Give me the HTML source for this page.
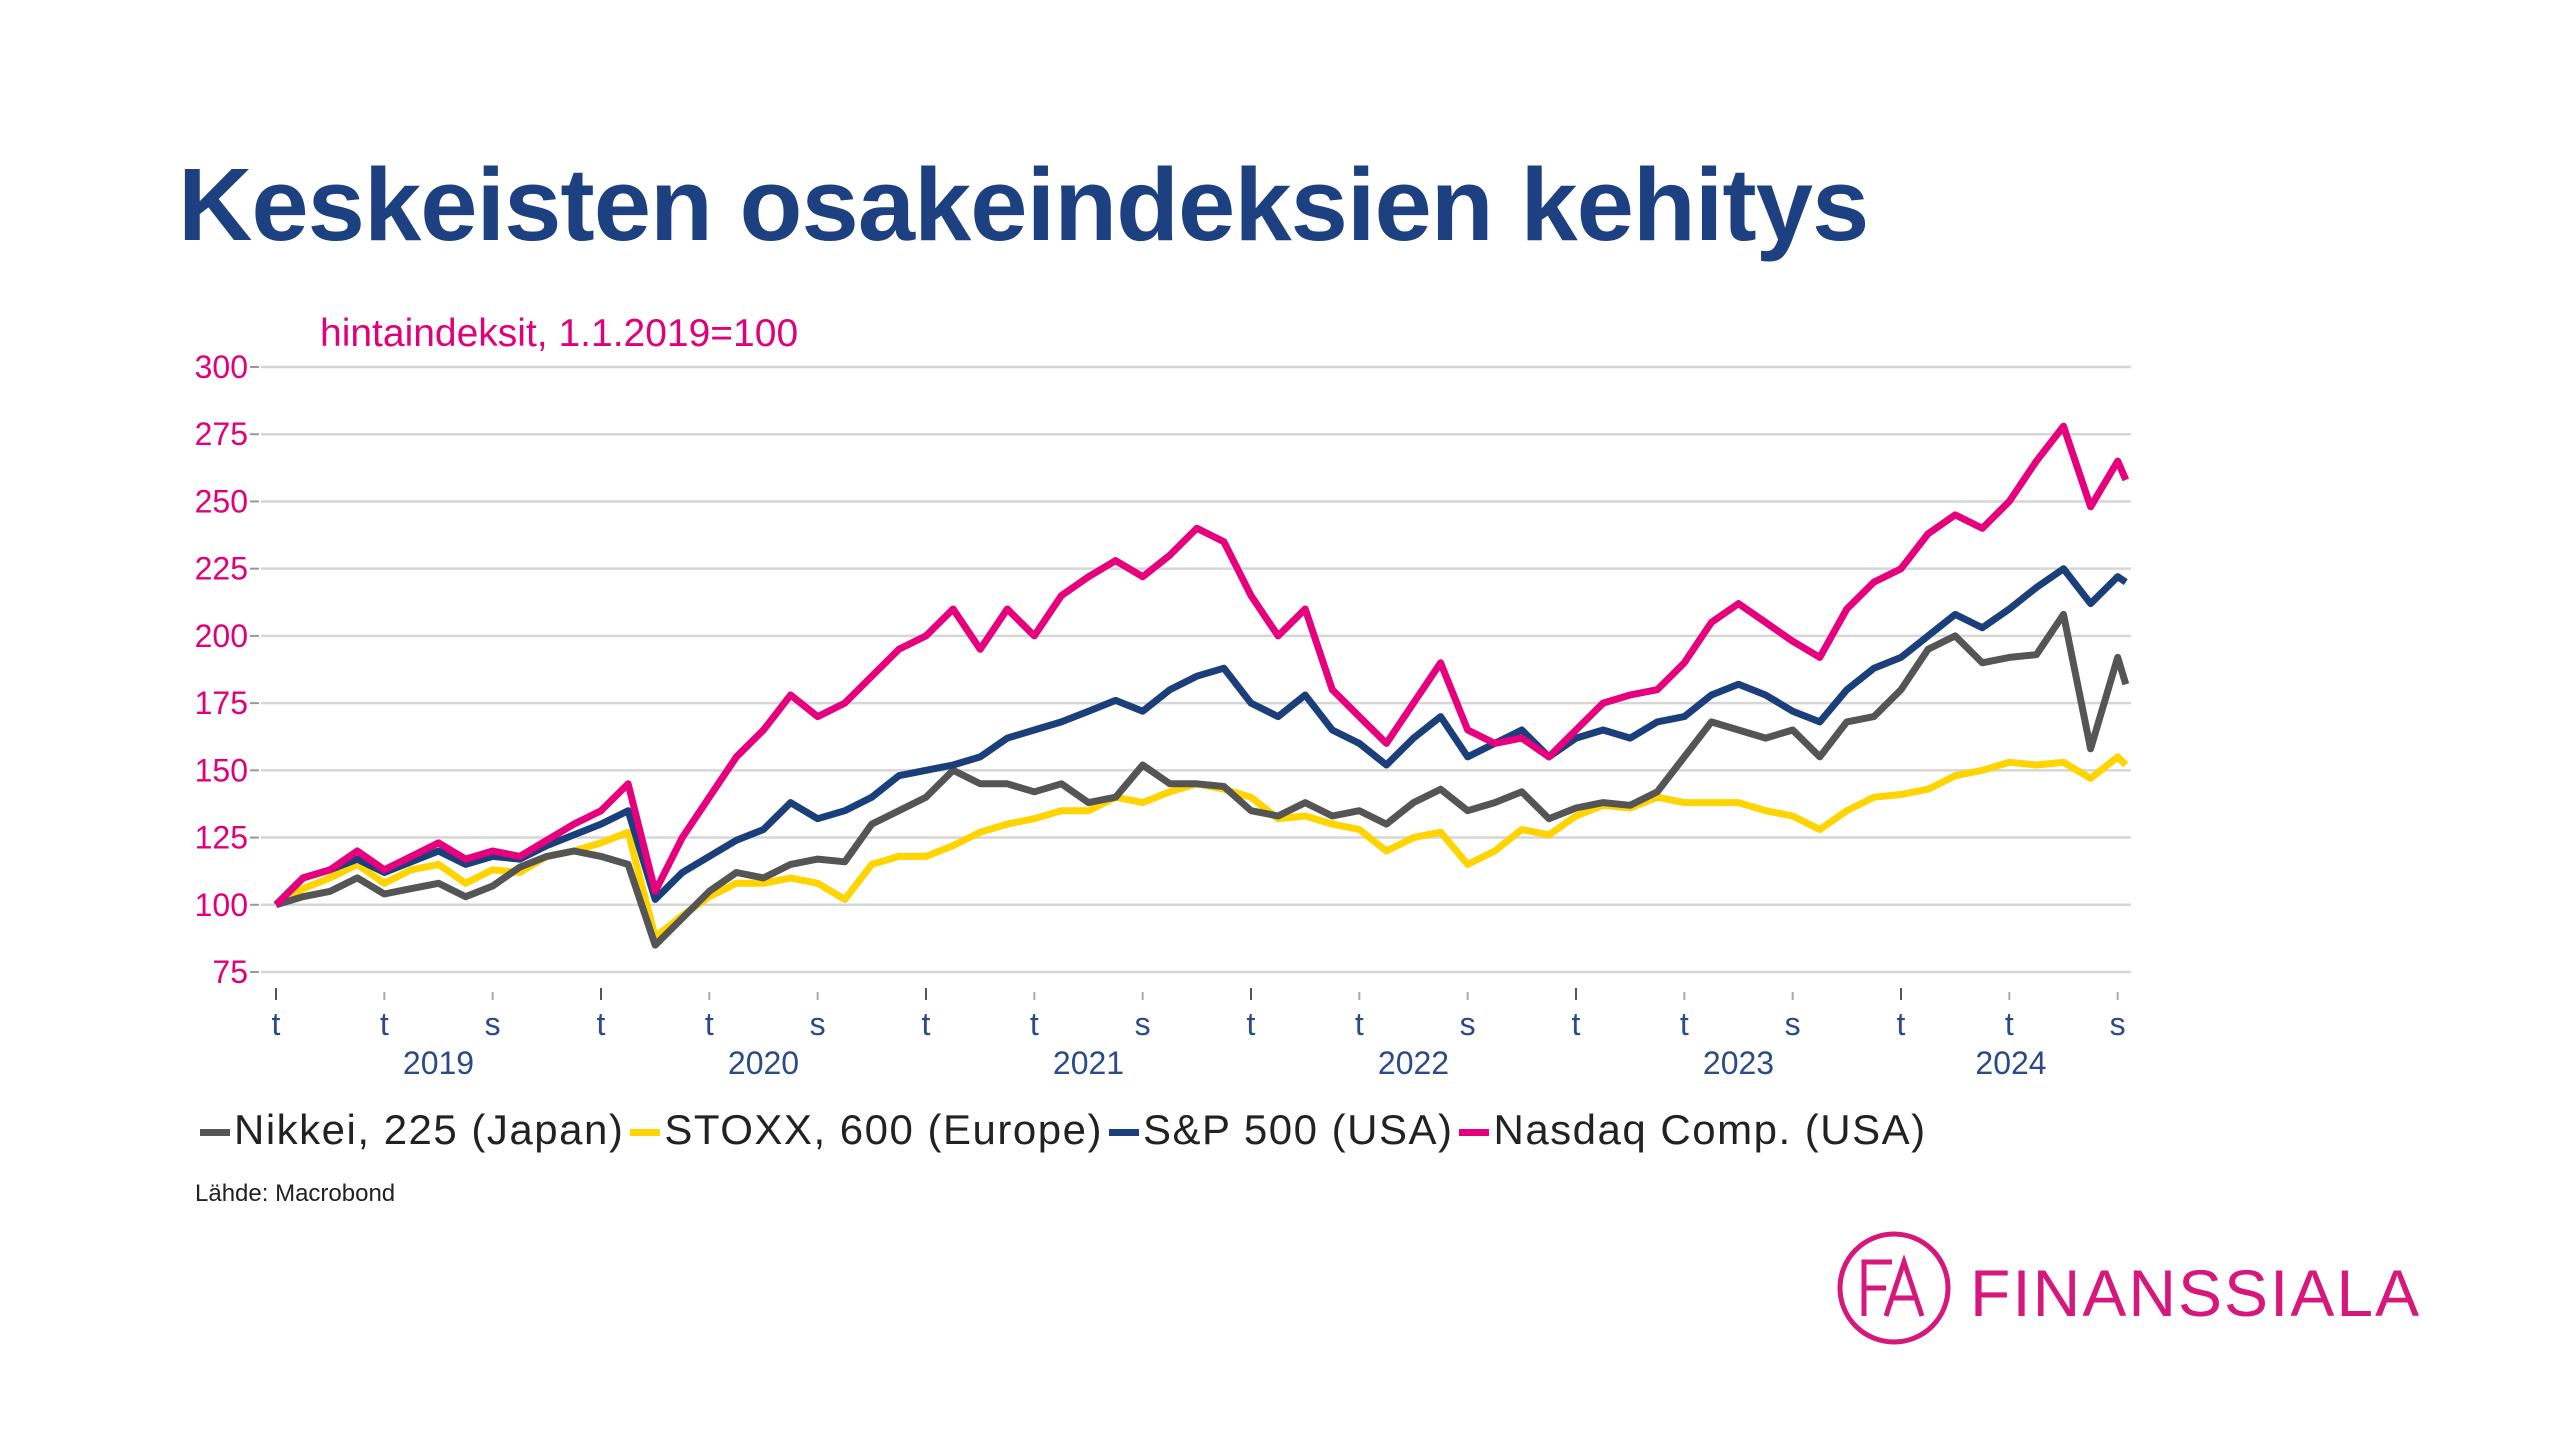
<!DOCTYPE html>
<html><head><meta charset="utf-8"><style>
html,body{margin:0;padding:0;background:#fff;}
body{width:2560px;height:1440px;position:relative;overflow:hidden;font-family:"Liberation Sans",sans-serif;}
#title{position:absolute;left:178px;top:146px;font-size:103px;font-weight:bold;color:#1d4180;letter-spacing:-1px;white-space:nowrap;}
#sub{position:absolute;left:320px;top:312px;font-size:39px;color:#e2007a;}
#src{position:absolute;left:195px;top:1180px;font-size:24px;color:#222;}
#legend{position:absolute;left:200px;top:1106px;font-size:42px;color:#222;white-space:nowrap;letter-spacing:1.5px;}
#legend span.e{margin-right:6px;}
#legend i{display:inline-block;width:30px;height:7px;vertical-align:middle;margin-right:4px;}
#logo{position:absolute;left:1834px;top:1228px;}
#logotext{position:absolute;left:1970px;top:1255px;font-size:66px;color:#d6177b;letter-spacing:2px;}
</style></head><body>
<div id="title">Keskeisten osakeindeksien kehitys</div>
<div id="sub">hintaindeksit, 1.1.2019=100</div>
<svg id="chart" width="2560" height="1440" style="position:absolute;left:0;top:0"></svg>
<div id="legend">
<span class="e"><i style="background:#555"></i>Nikkei, 225 (Japan)</span><span class="e"><i style="background:#ffd400"></i>STOXX, 600 (Europe)</span><span class="e"><i style="background:#1a3f7a"></i>S&amp;P 500 (USA)</span><span class="e"><i style="background:#e6007e"></i>Nasdaq Comp. (USA)</span>
</div>
<div id="src">Lähde: Macrobond</div>
<svg id="logo" width="120" height="120">
<circle cx="60" cy="60" r="54" fill="none" stroke="#d6177b" stroke-width="5"/>
<path d="M30 88 V34 H58 M30 60 H52 M52 88 L70 34 L88 88 M60 70 H82" fill="none" stroke="#d6177b" stroke-width="5"/>
</svg>
<div id="logotext">FINANSSIALA</div>
<script>
const months=[0,1,2,3,4,5,6,7,8,9,10,11,12,13,14,15,16,17,18,19,20,21,22,23,24,25,26,27,28,29,30,31,32,33,34,35,36,37,38,39,40,41,42,43,44,45,46,47,48,49,50,51,52,53,54,55,56,57,58,59,60,61,62,63,64,65,66,67,68,68.3];
const nasdaq=[100,110,113,120,113,118,123,117,120,118,124,130,135,145,105,125,140,155,165,178,170,175,185,195,200,210,195,210,200,215,222,228,222,230,240,235,215,200,210,180,170,160,175,190,165,160,162,155,165,175,178,180,190,205,212,205,198,192,210,220,225,238,245,240,250,265,278,248,265,258];
const sp500=[100,110,113,117,112,116,120,115,118,117,122,126,130,135,102,112,118,124,128,138,132,135,140,148,150,152,155,162,165,168,172,176,172,180,185,188,175,170,178,165,160,152,162,170,155,160,165,155,162,165,162,168,170,178,182,178,172,168,180,188,192,200,208,203,210,218,225,212,222,220];
const nikkei=[100,103,105,110,104,106,108,103,107,114,118,120,118,115,85,95,105,112,110,115,117,116,130,135,140,150,145,145,142,145,138,140,152,145,145,144,135,133,138,133,135,130,138,143,135,138,142,132,136,138,137,142,155,168,165,162,165,155,168,170,180,195,200,190,192,193,208,158,192,182];
const stoxx=[100,106,110,115,108,113,115,108,113,112,118,120,123,127,88,96,103,108,108,110,108,102,115,118,118,122,127,130,132,135,135,140,138,142,145,143,140,132,133,130,128,120,125,127,115,120,128,126,133,137,136,140,138,138,138,135,133,128,135,140,141,143,148,150,153,152,153,147,155,152];
const yTicks=[75,100,125,150,175,200,225,250,275,300];
const tickLetters=["t","t","s"];
const years=["2019","2020","2021","2022","2023","2024"];
const NS="http://www.w3.org/2000/svg";
const svg=document.getElementById('chart');
const X=m=>276+m*(325/12);
const Y=v=>972-(v-75)*(605/225);
function mk(t,a){const e=document.createElementNS(NS,t);for(const k in a)e.setAttribute(k,a[k]);svg.appendChild(e);return e;}
yTicks.forEach(v=>{
 const g=mk('line',{x1:261,x2:2131,y1:Y(v),y2:Y(v),stroke:'#d6d6d6','stroke-width':2.5});
 
 
 mk('line',{x1:250,x2:259,y1:Y(v),y2:Y(v),stroke:'#999','stroke-width':2});
 const t=mk('text',{x:248,y:Y(v)+11,'text-anchor':'end','font-size':32,fill:'#e2007a','font-family':'Liberation Sans'});
 t.textContent=v;
 
 
});
for(let i=0;i<=17;i++){
 const m=i*4;const x=X(m);const major=i%3===0;
 mk('line',{x1:x,x2:x,y1:major?988:992,y2:1000,stroke:major?'#555':'#aaa','stroke-width':2});
 const t=mk('text',{x:x,y:1035,'text-anchor':'middle','font-size':32,fill:'#2a4a8a','font-family':'Liberation Sans'});
 t.textContent=tickLetters[i%3];
 
 
}
years.forEach((yr,i)=>{
 const t=mk('text',{x:X(i*12+ (i===5?0:6)) + (i===5?110:0),y:1074,'text-anchor':'middle','font-size':32,fill:'#2a4a8a','font-family':'Liberation Sans'});
 t.textContent=yr;
 
 
});
function series(vals,color,name){
 const d=vals.map((v,i)=>(i?'L':'M')+X(months[i]).toFixed(1)+' '+Y(v).toFixed(1)).join(' ');
 const p=mk('path',{d:d,fill:'none',stroke:color,'stroke-width':7,'stroke-linejoin':'round'});
 
 
}
series(stoxx,'#ffd400','series-stoxx');
series(nikkei,'#555555','series-nikkei');
series(sp500,'#1a3f7a','series-sp500');
series(nasdaq,'#e6007e','series-nasdaq');
</script>
</body></html>
